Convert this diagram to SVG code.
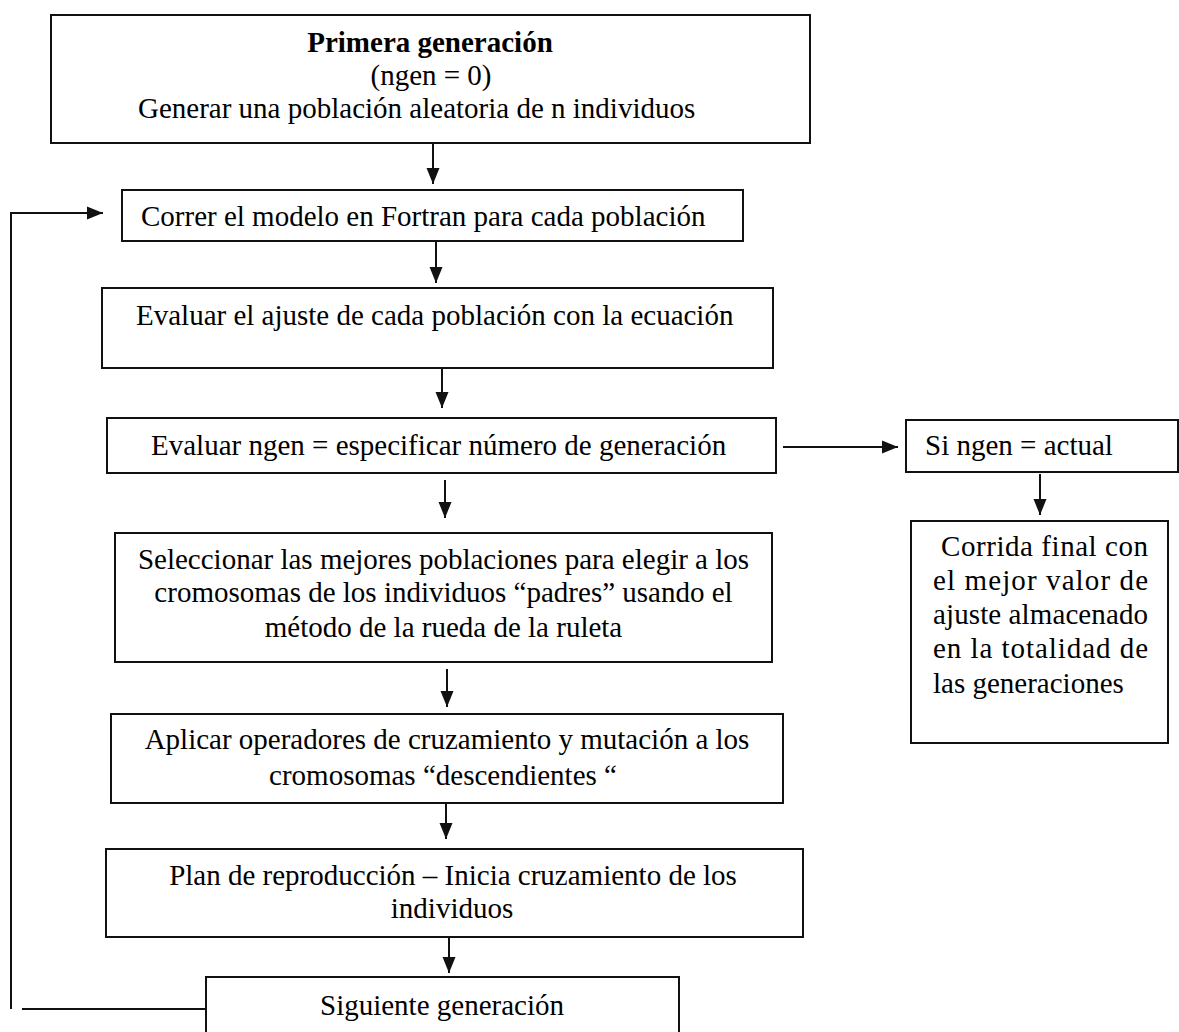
<svg xmlns="http://www.w3.org/2000/svg" width="1179" height="1032" viewBox="0 0 1179 1032">
<style>
.box{fill:#fff;stroke:#111;stroke-width:2}
.t{font-family:"Liberation Serif","Times New Roman",serif;font-size:29px;fill:#000}
.c{text-anchor:middle}
.b{font-weight:bold}
.ln{fill:none;stroke:#111;stroke-width:2}
</style>
<defs>
<marker id="ah" markerUnits="userSpaceOnUse" markerWidth="16" markerHeight="14" refX="16" refY="7" orient="auto">
<path d="M0,0.5 L16,7 L0,13.5 z" fill="#111"/>
</marker>
</defs>
<rect width="1179" height="1032" fill="#fff"/>
<g id="connectors">
<line class="ln" x1="433" y1="143" x2="433" y2="184" marker-end="url(#ah)"/>
<line class="ln" x1="436" y1="241" x2="436" y2="283" marker-end="url(#ah)"/>
<line class="ln" x1="442" y1="368" x2="442" y2="408" marker-end="url(#ah)"/>
<line class="ln" x1="445" y1="480" x2="445" y2="518" marker-end="url(#ah)"/>
<line class="ln" x1="447" y1="669" x2="447" y2="707" marker-end="url(#ah)"/>
<line class="ln" x1="446" y1="800" x2="446" y2="839" marker-end="url(#ah)"/>
<line class="ln" x1="449" y1="931" x2="449" y2="973" marker-end="url(#ah)"/>
<line class="ln" x1="783" y1="447" x2="898" y2="447" marker-end="url(#ah)"/>
<line class="ln" x1="1040" y1="474" x2="1040" y2="515" marker-end="url(#ah)"/>
<polyline class="ln" points="11,1009 11,213 103,213" marker-end="url(#ah)"/>
<line class="ln" x1="22" y1="1009" x2="205" y2="1009"/>
</g>
<g id="n1">
<rect class="box" x="51" y="15" width="759" height="128"/>
<text class="t c b" x="430" y="52">Primera generación</text>
<text class="t c" x="431" y="85">(ngen = 0)</text>
<text class="t" x="138" y="118">Generar una población aleatoria de n individuos</text>
</g>
<g id="n2">
<rect class="box" x="122" y="190" width="621" height="51"/>
<text class="t" x="141" y="226">Correr el modelo en Fortran para cada población</text>
</g>
<g id="n3">
<rect class="box" x="102" y="288" width="671" height="80"/>
<text class="t" x="136" y="325">Evaluar el ajuste de cada población con la ecuación</text>
</g>
<g id="n4">
<rect class="box" x="107" y="418" width="669" height="55"/>
<text class="t" x="151" y="455">Evaluar ngen = especificar número de generación</text>
</g>
<g id="n5">
<rect class="box" x="906" y="420" width="272" height="52"/>
<text class="t" x="925" y="455">Si ngen = actual</text>
</g>
<g id="n6">
<rect class="box" x="911" y="521" width="257" height="222"/>
<text class="t" x="941" y="556" textLength="207" lengthAdjust="spacing">Corrida final con</text>
<text class="t" x="933" y="590" textLength="215" lengthAdjust="spacing">el mejor valor de</text>
<text class="t" x="933" y="624" textLength="215" lengthAdjust="spacing">ajuste almacenado</text>
<text class="t" x="933" y="658" textLength="215" lengthAdjust="spacing">en la totalidad de</text>
<text class="t" x="933" y="693">las generaciones</text>
</g>
<g id="n7">
<rect class="box" x="115" y="533" width="657" height="129"/>
<text class="t c" x="443.5" y="569">Seleccionar las mejores poblaciones para elegir a los</text>
<text class="t c" x="443.5" y="602">cromosomas de los individuos “padres” usando el</text>
<text class="t c" x="443.5" y="637">método de la rueda de la ruleta</text>
</g>
<g id="n8">
<rect class="box" x="111" y="714" width="672" height="89"/>
<text class="t c" x="447" y="749">Aplicar operadores de cruzamiento y mutación a los</text>
<text class="t c" x="443" y="785">cromosomas “descendientes “</text>
</g>
<g id="n9">
<rect class="box" x="106" y="849" width="697" height="88"/>
<text class="t c" x="453" y="885">Plan de reproducción – Inicia cruzamiento de los</text>
<text class="t c" x="452" y="918">individuos</text>
</g>
<g id="n10">
<rect class="box" x="206" y="977" width="473" height="70"/>
<text class="t c" x="442" y="1015">Siguiente generación</text>
</g>
</svg>
